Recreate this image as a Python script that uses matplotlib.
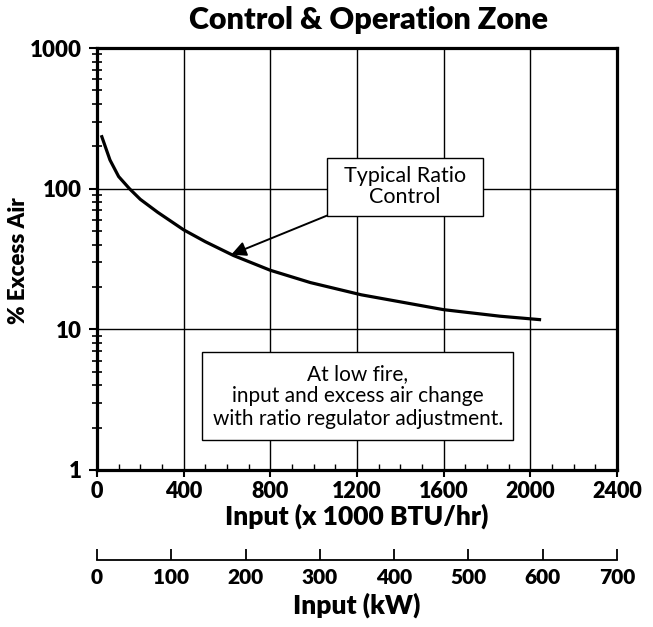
import matplotlib.pyplot as plt
from matplotlib.patches import Rectangle
from matplotlib.ticker import FixedLocator, NullFormatter, MultipleLocator

# values
input_btu = [20, 60, 100, 150, 200, 280, 400, 500, 630, 800, 985, 1220, 1600, 1860, 2050]
excess_air = [240, 160, 122, 100, 84, 68, 51, 42, 33.5, 26.3, 21.5, 17.6, 13.8, 12.4, 11.7]

btu_ticks = [0, 400, 800, 1200, 1600, 2000, 2400]
kw_ticks = [0, 100, 200, 300, 400, 500, 600, 700]
y_ticks = [1, 10, 100, 1000]
y_labels = ['1', '10', '100', '1000']

plt.rcParams['font.family'] = ['Lato', 'DejaVu Sans']
HEAVY = 'heavy'

fig = plt.figure(figsize=(6.53, 6.27), dpi=100)
ax = fig.add_axes([0.1485, 0.2504, 0.7963, 0.673])

ax.plot(input_btu, excess_air, color='black', lw=2.3, solid_capstyle='butt',
        solid_joinstyle='round', zorder=3)

ax.set_yscale('log')
ax.set_ylim(1, 1000)
ax.set_xlim(0, 2400)

ax.set_yticks(y_ticks)
ax.set_yticklabels(y_labels)
ax.yaxis.set_minor_locator(FixedLocator([m * d for d in (1, 10, 100) for m in range(2, 10)]))
ax.yaxis.set_minor_formatter(NullFormatter())
ax.set_xticks(btu_ticks)
ax.xaxis.set_minor_locator(MultipleLocator(100))

ax.tick_params(axis='y', which='major', direction='out', length=6, width=1.5,
               labelsize=16, pad=5)
ax.tick_params(axis='y', which='minor', direction='inout', length=7, width=1.2)
ax.tick_params(axis='x', which='major', direction='out', length=5, width=1.5,
               labelsize=15.5, pad=3)
ax.tick_params(axis='x', which='minor', direction='in', length=4, width=1.0)
for lab in ax.get_xticklabels() + ax.get_yticklabels():
    lab.set_fontweight(HEAVY)

for s in ax.spines.values():
    s.set_linewidth(2.3)

# grid at majors only, black
for gx in btu_ticks[1:-1]:
    ax.axvline(gx, color='black', lw=1.0, zorder=0)
for gy in [10, 100]:
    ax.axhline(gy, color='black', lw=1.0, zorder=0)

ax.set_xlabel('Input (x 1000 BTU/hr)', fontsize=19, fontweight=HEAVY, labelpad=1)

# kW scale below
sec = ax.secondary_xaxis(-0.213, functions=(lambda x: x * 700 / 2400, lambda k: k * 2400 / 700))
sec.set_xticks(kw_ticks)
sec.spines['bottom'].set_linewidth(1.3)
sec.tick_params(direction='in', length=8, width=1.3, labelsize=15, pad=6)
for lab in sec.get_xticklabels():
    lab.set_fontweight(HEAVY)
sec.set_xlabel('Input (kW)', fontsize=19, fontweight=HEAVY, labelpad=4)

fig.text(0.565, 0.968, 'Control & Operation Zone', ha='center', va='center',
         fontsize=22, fontweight=HEAVY)
fig.text(0.028, 0.585, '% Excess Air', rotation=90, ha='center', va='center',
         fontsize=16, fontweight=HEAVY)

# annotation boxes
ax.add_patch(Rectangle((1062, 64.4), 1782 - 1062, 166 - 64.4, fc='white', ec='black',
                       lw=1.0, zorder=4))
ax.text(1422, 103, 'Typical Ratio\nControl', ha='center', va='center', fontsize=15.5,
        linespacing=1.05, zorder=5)
ax.annotate('', xy=(620, 34), xytext=(1062, 64.4),
            arrowprops=dict(arrowstyle='-|>', mutation_scale=22, lw=1.4, color='black',
                            shrinkA=0, shrinkB=0), zorder=5)

ax.add_patch(Rectangle((485, 1.63), 1920 - 485, 6.87 - 1.63, fc='white', ec='black',
                       lw=1.0, zorder=4))
ax.text(1205, 3.35, 'At low fire,\ninput and excess air change\nwith ratio regulator adjustment.',
        ha='center', va='center', fontsize=15, linespacing=1.15, zorder=5)

fig.savefig('out.png', dpi=100)
